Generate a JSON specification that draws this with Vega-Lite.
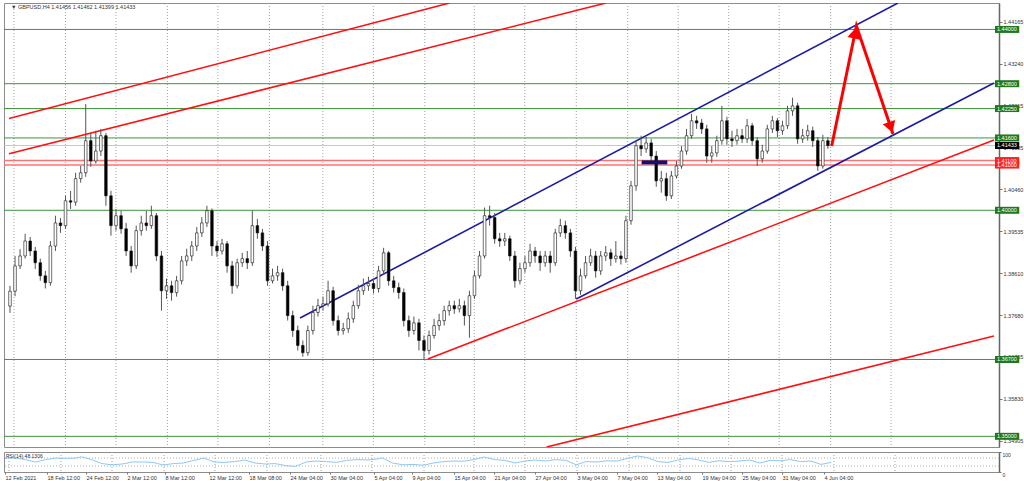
{
"$schema":"https://vega.github.io/schema/vega-lite/v6.json",
"padding":{"left":2,"top":2,"right":0,"bottom":0},
"background":"white",
"spacing":3,
"config":{"view":{"stroke":"#8c8c8c","strokeWidth":1},"font":"Liberation Sans","axis":{"labelFont":"Liberation Sans","labelFontSize":5.5,"labelColor":"#333333","domainColor":"#777777","tickColor":"#777777","grid":false}},
"datasets":{
"grid":[{"g":0.78},{"g":10.98},{"g":20.98},{"g":31.18},{"g":41.18},{"g":51.37},{"g":61.96},{"g":71.96},{"g":82.16},{"g":91.96},{"g":101.96},{"g":112.16},{"g":122.35},{"g":132.35},{"g":142.35},{"g":152.35},{"g":162.55},{"g":174.51}],
"lv":[{"p":1.44,"t":"green"},{"p":1.428,"t":"green"},{"p":1.4225,"t":"green"},{"p":1.416,"t":"green"},{"p":1.4,"t":"green"},{"p":1.367,"t":"green"},{"p":1.35,"t":"green"},{"p":1.411,"t":"red"},{"p":1.41,"t":"red"},{"p":1.41433,"t":"bid"}],
"tr":[{"id":"A","grp":"fan","k":-0.196,"p":1.4203},{"id":"A","grp":"fan","k":87.06,"p":1.44585},
{"id":"B","grp":"fan","k":-0.196,"p":1.41251},{"id":"B","grp":"fan","k":118.04,"p":1.44585},
{"id":"C","grp":"fan","k":82.75,"p":1.3671},{"id":"C","grp":"fan","k":194.9,"p":1.41554},
{"id":"D","grp":"fan","k":106.27,"p":1.34763},{"id":"D","grp":"fan","k":194.9,"p":1.37219},
{"id":"E","grp":"channel","k":57.45,"p":1.37617},{"id":"E","grp":"channel","k":175.88,"p":1.44585},
{"id":"F","grp":"channel","k":112.16,"p":1.38037},{"id":"F","grp":"channel","k":194.9,"p":1.42815}],
"zone":[{"k0":125.1,"k1":130.2,"p":1.4106}],
"arr":[{"n":0,"k":162.75,"p":1.41422},{"n":1,"k":167.65,"p":1.44076},{"n":2,"k":174.9,"p":1.41687}],
"heads":[{"dir":"up","k":167.37,"p":1.43923},{"dir":"down","k":174.45,"p":1.41833}],
"rl":[{"v":30},{"v":70}],
"hdr":[{"s":"▼ GBPUSD,H4  1.41456 1.41462 1.41399 1.41433"}],
"rhdr":[{"s":"RSI(14) 48.1306"}],
"rsi":[{"k":0,"r":68},{"k":2,"r":70},{"k":4,"r":62},{"k":6,"r":50},{"k":8,"r":62},{"k":10,"r":70},{"k":12,"r":68},{"k":14,"r":70},{"k":15,"r":76},{"k":17,"r":62},{"k":19,"r":42},{"k":21,"r":36},{"k":23,"r":40},{"k":25,"r":50},{"k":27,"r":50},{"k":29,"r":48},{"k":31,"r":35},{"k":33,"r":42},{"k":35,"r":45},{"k":37,"r":58},{"k":39,"r":70},{"k":41,"r":50},{"k":43,"r":48},{"k":45,"r":52},{"k":47,"r":60},{"k":49,"r":45},{"k":51,"r":40},{"k":53,"r":42},{"k":55,"r":32},{"k":57,"r":28},{"k":59,"r":50},{"k":61,"r":55},{"k":63,"r":52},{"k":65,"r":48},{"k":67,"r":58},{"k":69,"r":62},{"k":71,"r":60},{"k":73,"r":65},{"k":74,"r":70},{"k":76,"r":45},{"k":78,"r":36},{"k":80,"r":38},{"k":82,"r":34},{"k":84,"r":45},{"k":86,"r":52},{"k":88,"r":55},{"k":90,"r":54},{"k":92,"r":62},{"k":94,"r":75},{"k":96,"r":62},{"k":98,"r":58},{"k":100,"r":45},{"k":102,"r":55},{"k":104,"r":60},{"k":106,"r":55},{"k":108,"r":62},{"k":110,"r":58},{"k":112,"r":36},{"k":114,"r":52},{"k":116,"r":50},{"k":118,"r":56},{"k":120,"r":55},{"k":122,"r":68},{"k":124,"r":80},{"k":126,"r":72},{"k":128,"r":52},{"k":130,"r":48},{"k":132,"r":60},{"k":134,"r":68},{"k":136,"r":60},{"k":138,"r":48},{"k":140,"r":56},{"k":142,"r":52},{"k":144,"r":55},{"k":146,"r":60},{"k":148,"r":45},{"k":150,"r":58},{"k":152,"r":56},{"k":154,"r":62},{"k":156,"r":52},{"k":158,"r":55},{"k":160,"r":38},{"k":162,"r":48}],
"c":[
{"k":0,"o":1.3788,"h":1.3833,"l":1.3773,"c":1.3821},
{"k":1,"o":1.3821,"h":1.3899,"l":1.3810,"c":1.3877},
{"k":2,"o":1.3877,"h":1.3914,"l":1.3870,"c":1.3899},
{"k":3,"o":1.3899,"h":1.3948,"l":1.3893,"c":1.3932},
{"k":4,"o":1.3932,"h":1.3941,"l":1.3899,"c":1.3910},
{"k":5,"o":1.3910,"h":1.3919,"l":1.3870,"c":1.3884},
{"k":6,"o":1.3884,"h":1.3893,"l":1.3844,"c":1.3855},
{"k":7,"o":1.3855,"h":1.3866,"l":1.3827,"c":1.3840},
{"k":8,"o":1.3840,"h":1.3932,"l":1.3833,"c":1.3921},
{"k":9,"o":1.3921,"h":1.3988,"l":1.3910,"c":1.3972},
{"k":10,"o":1.3972,"h":1.3983,"l":1.3950,"c":1.3966},
{"k":11,"o":1.3966,"h":1.4032,"l":1.3959,"c":1.4021},
{"k":12,"o":1.4021,"h":1.4043,"l":1.4003,"c":1.4018},
{"k":13,"o":1.4018,"h":1.4083,"l":1.4010,"c":1.4070},
{"k":14,"o":1.4070,"h":1.4098,"l":1.4061,"c":1.4083},
{"k":15,"o":1.4083,"h":1.4235,"l":1.4074,"c":1.4154},
{"k":16,"o":1.4154,"h":1.4171,"l":1.4096,"c":1.4109},
{"k":17,"o":1.4109,"h":1.4176,"l":1.4103,"c":1.4131},
{"k":18,"o":1.4131,"h":1.4180,"l":1.4120,"c":1.4165},
{"k":19,"o":1.4165,"h":1.4171,"l":1.4010,"c":1.4032},
{"k":20,"o":1.4032,"h":1.4043,"l":1.3944,"c":1.3966},
{"k":21,"o":1.3966,"h":1.4003,"l":1.3955,"c":1.3988},
{"k":22,"o":1.3988,"h":1.3999,"l":1.3948,"c":1.3959},
{"k":23,"o":1.3959,"h":1.3972,"l":1.3899,"c":1.3910},
{"k":24,"o":1.3910,"h":1.3921,"l":1.3862,"c":1.3877},
{"k":25,"o":1.3877,"h":1.3966,"l":1.3870,"c":1.3955},
{"k":26,"o":1.3955,"h":1.3988,"l":1.3944,"c":1.3972},
{"k":27,"o":1.3972,"h":1.3999,"l":1.3955,"c":1.3966},
{"k":28,"o":1.3966,"h":1.4010,"l":1.3959,"c":1.3988},
{"k":29,"o":1.3988,"h":1.3994,"l":1.3888,"c":1.3899},
{"k":30,"o":1.3899,"h":1.3910,"l":1.3778,"c":1.3822},
{"k":31,"o":1.3822,"h":1.3849,"l":1.3804,"c":1.3833},
{"k":32,"o":1.3833,"h":1.3844,"l":1.3800,"c":1.3818},
{"k":33,"o":1.3818,"h":1.3855,"l":1.3809,"c":1.3844},
{"k":34,"o":1.3844,"h":1.3899,"l":1.3836,"c":1.3888},
{"k":35,"o":1.3888,"h":1.3915,"l":1.3877,"c":1.3899},
{"k":36,"o":1.3899,"h":1.3932,"l":1.3888,"c":1.3921},
{"k":37,"o":1.3921,"h":1.3963,"l":1.3910,"c":1.3950},
{"k":38,"o":1.3950,"h":1.3985,"l":1.3941,"c":1.3972},
{"k":39,"o":1.3972,"h":1.4010,"l":1.3963,"c":1.3999},
{"k":40,"o":1.3999,"h":1.4004,"l":1.3899,"c":1.3921},
{"k":41,"o":1.3921,"h":1.3932,"l":1.3897,"c":1.3910},
{"k":42,"o":1.3910,"h":1.3937,"l":1.3902,"c":1.3926},
{"k":43,"o":1.3926,"h":1.3932,"l":1.3862,"c":1.3877},
{"k":44,"o":1.3877,"h":1.3888,"l":1.3815,"c":1.3833},
{"k":45,"o":1.3833,"h":1.3893,"l":1.3827,"c":1.3884},
{"k":46,"o":1.3884,"h":1.3906,"l":1.3875,"c":1.3893},
{"k":47,"o":1.3893,"h":1.3910,"l":1.3870,"c":1.3884},
{"k":48,"o":1.3884,"h":1.3999,"l":1.3877,"c":1.3966},
{"k":49,"o":1.3966,"h":1.3981,"l":1.3937,"c":1.3950},
{"k":50,"o":1.3950,"h":1.3959,"l":1.3910,"c":1.3921},
{"k":51,"o":1.3921,"h":1.3932,"l":1.3833,"c":1.3844},
{"k":52,"o":1.3844,"h":1.3871,"l":1.3838,"c":1.3855},
{"k":53,"o":1.3855,"h":1.3877,"l":1.3844,"c":1.3862},
{"k":54,"o":1.3862,"h":1.3871,"l":1.3822,"c":1.3833},
{"k":55,"o":1.3833,"h":1.3844,"l":1.3756,"c":1.3767},
{"k":56,"o":1.3767,"h":1.3778,"l":1.3720,"c":1.3734},
{"k":57,"o":1.3734,"h":1.3745,"l":1.3690,"c":1.3701},
{"k":58,"o":1.3701,"h":1.3712,"l":1.3676,"c":1.3685},
{"k":59,"o":1.3685,"h":1.3745,"l":1.3678,"c":1.3734},
{"k":60,"o":1.3734,"h":1.3789,"l":1.3725,"c":1.3774},
{"k":61,"o":1.3774,"h":1.3804,"l":1.3765,"c":1.3789},
{"k":62,"o":1.3789,"h":1.3809,"l":1.3778,"c":1.3793},
{"k":63,"o":1.3793,"h":1.3844,"l":1.3787,"c":1.3822},
{"k":64,"o":1.3822,"h":1.3831,"l":1.3745,"c":1.3756},
{"k":65,"o":1.3756,"h":1.3767,"l":1.3723,"c":1.3734},
{"k":66,"o":1.3734,"h":1.3751,"l":1.3725,"c":1.3738},
{"k":67,"o":1.3738,"h":1.3774,"l":1.3729,"c":1.3760},
{"k":68,"o":1.3760,"h":1.3800,"l":1.3751,"c":1.3789},
{"k":69,"o":1.3789,"h":1.3835,"l":1.3782,"c":1.3822},
{"k":70,"o":1.3822,"h":1.3849,"l":1.3813,"c":1.3833},
{"k":71,"o":1.3833,"h":1.3853,"l":1.3822,"c":1.3838},
{"k":72,"o":1.3838,"h":1.3849,"l":1.3816,"c":1.3827},
{"k":73,"o":1.3827,"h":1.3877,"l":1.3818,"c":1.3866},
{"k":74,"o":1.3866,"h":1.3917,"l":1.3857,"c":1.3906},
{"k":75,"o":1.3906,"h":1.3910,"l":1.3833,"c":1.3844},
{"k":76,"o":1.3844,"h":1.3855,"l":1.3818,"c":1.3829},
{"k":77,"o":1.3829,"h":1.3840,"l":1.3804,"c":1.3818},
{"k":78,"o":1.3818,"h":1.3827,"l":1.3743,"c":1.3756},
{"k":79,"o":1.3756,"h":1.3767,"l":1.3720,"c":1.3734},
{"k":80,"o":1.3734,"h":1.3765,"l":1.3725,"c":1.3751},
{"k":81,"o":1.3751,"h":1.3760,"l":1.3690,"c":1.3712},
{"k":82,"o":1.3712,"h":1.3723,"l":1.3670,"c":1.3690},
{"k":83,"o":1.3690,"h":1.3734,"l":1.3681,"c":1.3723},
{"k":84,"o":1.3723,"h":1.3760,"l":1.3716,"c":1.3745},
{"k":85,"o":1.3745,"h":1.3771,"l":1.3734,"c":1.3756},
{"k":86,"o":1.3756,"h":1.3789,"l":1.3745,"c":1.3778},
{"k":87,"o":1.3778,"h":1.3800,"l":1.3767,"c":1.3789},
{"k":88,"o":1.3789,"h":1.3800,"l":1.3771,"c":1.3782},
{"k":89,"o":1.3782,"h":1.3804,"l":1.3774,"c":1.3789},
{"k":90,"o":1.3789,"h":1.3800,"l":1.3745,"c":1.3767},
{"k":91,"o":1.3767,"h":1.3822,"l":1.3718,"c":1.3811},
{"k":92,"o":1.3811,"h":1.3866,"l":1.3804,"c":1.3855},
{"k":93,"o":1.3855,"h":1.3910,"l":1.3849,"c":1.3899},
{"k":94,"o":1.3899,"h":1.4006,"l":1.3893,"c":1.3988},
{"k":95,"o":1.3988,"h":1.4010,"l":1.3966,"c":1.3984},
{"k":96,"o":1.3984,"h":1.3994,"l":1.3926,"c":1.3937},
{"k":97,"o":1.3937,"h":1.3950,"l":1.3919,"c":1.3932},
{"k":98,"o":1.3932,"h":1.3950,"l":1.3921,"c":1.3937},
{"k":99,"o":1.3937,"h":1.3944,"l":1.3888,"c":1.3899},
{"k":100,"o":1.3899,"h":1.3910,"l":1.3829,"c":1.3844},
{"k":101,"o":1.3844,"h":1.3884,"l":1.3836,"c":1.3871},
{"k":102,"o":1.3871,"h":1.3899,"l":1.3862,"c":1.3884},
{"k":103,"o":1.3884,"h":1.3926,"l":1.3875,"c":1.3910},
{"k":104,"o":1.3910,"h":1.3919,"l":1.3884,"c":1.3899},
{"k":105,"o":1.3899,"h":1.3910,"l":1.3866,"c":1.3884},
{"k":106,"o":1.3884,"h":1.3910,"l":1.3875,"c":1.3899},
{"k":107,"o":1.3899,"h":1.3910,"l":1.3862,"c":1.3884},
{"k":108,"o":1.3884,"h":1.3959,"l":1.3877,"c":1.3950},
{"k":109,"o":1.3950,"h":1.3981,"l":1.3941,"c":1.3966},
{"k":110,"o":1.3966,"h":1.3977,"l":1.3937,"c":1.3950},
{"k":111,"o":1.3950,"h":1.3959,"l":1.3897,"c":1.3910},
{"k":112,"o":1.3910,"h":1.3919,"l":1.3804,"c":1.3822},
{"k":113,"o":1.3822,"h":1.3871,"l":1.3813,"c":1.3855},
{"k":114,"o":1.3855,"h":1.3899,"l":1.3849,"c":1.3884},
{"k":115,"o":1.3884,"h":1.3915,"l":1.3877,"c":1.3899},
{"k":116,"o":1.3899,"h":1.3910,"l":1.3851,"c":1.3866},
{"k":117,"o":1.3866,"h":1.3910,"l":1.3857,"c":1.3899},
{"k":118,"o":1.3899,"h":1.3921,"l":1.3888,"c":1.3906},
{"k":119,"o":1.3906,"h":1.3915,"l":1.3877,"c":1.3893},
{"k":120,"o":1.3893,"h":1.3932,"l":1.3884,"c":1.3899},
{"k":121,"o":1.3899,"h":1.3910,"l":1.3880,"c":1.3893},
{"k":122,"o":1.3893,"h":1.3988,"l":1.3884,"c":1.3977},
{"k":123,"o":1.3977,"h":1.4065,"l":1.3968,"c":1.4054},
{"k":124,"o":1.4054,"h":1.4154,"l":1.4043,"c":1.4143},
{"k":125,"o":1.4143,"h":1.4165,"l":1.4120,"c":1.4136},
{"k":126,"o":1.4136,"h":1.4162,"l":1.4127,"c":1.4149},
{"k":127,"o":1.4149,"h":1.4158,"l":1.4109,"c":1.4120},
{"k":128,"o":1.4120,"h":1.4131,"l":1.4052,"c":1.4065},
{"k":129,"o":1.4065,"h":1.4087,"l":1.4039,"c":1.4070},
{"k":130,"o":1.4070,"h":1.4083,"l":1.4021,"c":1.4032},
{"k":131,"o":1.4032,"h":1.4087,"l":1.4025,"c":1.4076},
{"k":132,"o":1.4076,"h":1.4109,"l":1.4070,"c":1.4098},
{"k":133,"o":1.4098,"h":1.4142,"l":1.4092,"c":1.4131},
{"k":134,"o":1.4131,"h":1.4180,"l":1.4123,"c":1.4165},
{"k":135,"o":1.4165,"h":1.4213,"l":1.4158,"c":1.4198},
{"k":136,"o":1.4198,"h":1.4209,"l":1.4180,"c":1.4193},
{"k":137,"o":1.4193,"h":1.4202,"l":1.4169,"c":1.4180},
{"k":138,"o":1.4180,"h":1.4189,"l":1.4105,"c":1.4120},
{"k":139,"o":1.4120,"h":1.4142,"l":1.4105,"c":1.4127},
{"k":140,"o":1.4127,"h":1.4165,"l":1.4118,"c":1.4154},
{"k":141,"o":1.4154,"h":1.4231,"l":1.4145,"c":1.4198},
{"k":142,"o":1.4198,"h":1.4207,"l":1.4145,"c":1.4158},
{"k":143,"o":1.4158,"h":1.4176,"l":1.4140,"c":1.4154},
{"k":144,"o":1.4154,"h":1.4180,"l":1.4145,"c":1.4165},
{"k":145,"o":1.4165,"h":1.4180,"l":1.4149,"c":1.4158},
{"k":146,"o":1.4158,"h":1.4202,"l":1.4149,"c":1.4187},
{"k":147,"o":1.4187,"h":1.4193,"l":1.4143,"c":1.4154},
{"k":148,"o":1.4154,"h":1.4162,"l":1.4098,"c":1.4114},
{"k":149,"o":1.4114,"h":1.4145,"l":1.4105,"c":1.4131},
{"k":150,"o":1.4131,"h":1.4189,"l":1.4125,"c":1.4180},
{"k":151,"o":1.4180,"h":1.4209,"l":1.4171,"c":1.4198},
{"k":152,"o":1.4198,"h":1.4204,"l":1.4162,"c":1.4176},
{"k":153,"o":1.4176,"h":1.4198,"l":1.4167,"c":1.4187},
{"k":154,"o":1.4187,"h":1.4231,"l":1.4180,"c":1.4220},
{"k":155,"o":1.4220,"h":1.4249,"l":1.4209,"c":1.4231},
{"k":156,"o":1.4231,"h":1.4238,"l":1.4147,"c":1.4158},
{"k":157,"o":1.4158,"h":1.4180,"l":1.4149,"c":1.4165},
{"k":158,"o":1.4165,"h":1.4189,"l":1.4154,"c":1.4176},
{"k":159,"o":1.4176,"h":1.4185,"l":1.4140,"c":1.4154},
{"k":160,"o":1.4154,"h":1.4162,"l":1.4087,"c":1.4098},
{"k":161,"o":1.4098,"h":1.4167,"l":1.4092,"c":1.4154},
{"k":162,"o":1.4154,"h":1.4162,"l":1.4136,"c":1.4143}
]},
"vconcat":[
{
"width":995,"height":444,
"layer":[
{"data":{"name":"grid"},"mark":{"type":"rule","color":"#a0a0a0","strokeDash":[1,2],"strokeWidth":1},
 "encoding":{"x":{"field":"g","type":"quantitative","scale":{"domain":[-0.196,194.9],"nice":false,"zero":false},"axis":null}}},
{"data":{"name":"lv"},"transform":[{"filter":"datum.t=='green'"}],"mark":{"type":"rule","color":"#3c963c","strokeWidth":1},
 "encoding":{"y":{"field":"p","type":"quantitative","scale":{"domain":[1.34764,1.44585],"nice":false,"zero":false},
 "axis":{"orient":"right","title":null,"values":[1.44165,1.43705,1.4324,1.4278,1.42315,1.4185,1.41385,1.40925,1.4046,1.39995,1.39535,1.3907,1.3861,1.38145,1.3768,1.3722,1.36755,1.3629,1.3583,1.35365,1.34905],"format":".5f","tickSize":3,"labelPadding":1,"labelOverlap":false,"labelBound":false,"domainColor":"#666666","domainWidth":1.5}}}},
{"data":{"name":"lv"},"transform":[{"filter":"datum.t=='red'"}],"mark":{"type":"rule","color":"#ff7070","strokeWidth":1.5},
 "encoding":{"y":{"field":"p","type":"quantitative"}}},
{"data":{"name":"lv"},"transform":[{"filter":"datum.t=='bid'"}],"mark":{"type":"rule","color":"#c8c8c8","strokeWidth":1},
 "encoding":{"y":{"field":"p","type":"quantitative"}}},
{"data":{"name":"tr"},"mark":{"type":"line","clip":true,"strokeWidth":1.6},
 "encoding":{"x":{"field":"k","type":"quantitative"},"y":{"field":"p","type":"quantitative"},"detail":{"field":"id"},
 "color":{"field":"grp","type":"nominal","scale":{"domain":["fan","channel"],"range":["#ff1010","#1c1ca0"]},"legend":null}}},
{"data":{"name":"c"},"mark":{"type":"rule","color":"#555555","strokeWidth":1},
 "encoding":{"x":{"field":"k","type":"quantitative"},"y":{"field":"l","type":"quantitative"},"y2":{"field":"h"}}},
{"data":{"name":"c"},"mark":{"type":"bar","width":2.6,"stroke":"#111111","strokeWidth":0.6},
 "encoding":{"x":{"field":"k","type":"quantitative"},"y":{"field":"o","type":"quantitative"},"y2":{"field":"c"},
 "fill":{"condition":{"test":"datum.c >= datum.o","value":"#ffffff"},"value":"#000000"}}},
{"data":{"name":"zone"},"mark":{"type":"rule","color":"#12126e","strokeWidth":4},
 "encoding":{"x":{"field":"k0","type":"quantitative"},"x2":{"field":"k1"},"y":{"field":"p","type":"quantitative"}}},
{"data":{"name":"arr"},"mark":{"type":"line","color":"#ff0000","strokeWidth":3},
 "encoding":{"x":{"field":"k","type":"quantitative"},"y":{"field":"p","type":"quantitative"},"order":{"field":"n"}}},
{"data":{"name":"heads"},"transform":[{"filter":"datum.dir=='up'"}],"mark":{"type":"point","filled":true,"color":"#ff0000","opacity":1,"size":170,"shape":"triangle-up","angle":12},
 "encoding":{"x":{"field":"k","type":"quantitative"},"y":{"field":"p","type":"quantitative"}}},
{"data":{"name":"heads"},"transform":[{"filter":"datum.dir=='down'"}],"mark":{"type":"point","filled":true,"color":"#ff0000","opacity":1,"size":170,"shape":"triangle-up","angle":161},
 "encoding":{"x":{"field":"k","type":"quantitative"},"y":{"field":"p","type":"quantitative"}}},
{"data":{"name":"lv"},"mark":{"type":"rule","strokeWidth":7,"strokeCap":"butt"},
 "encoding":{"x":{"datum":195.1,"type":"quantitative"},"x2":{"datum":199.9},"y":{"field":"p","type":"quantitative"},
 "stroke":{"field":"t","type":"nominal","scale":{"domain":["green","red","bid"],"range":["#1f7a1f","#ff2020","#000000"]},"legend":null}}},
{"data":{"name":"lv"},"mark":{"type":"text","align":"left","baseline":"middle","fontSize":5.5,"color":"#ffffff","font":"Liberation Sans"},
 "encoding":{"x":{"datum":195.5,"type":"quantitative"},"y":{"field":"p","type":"quantitative"},"text":{"field":"p","format":".5f"}}},
{"data":{"name":"hdr"},"mark":{"type":"text","align":"left","baseline":"top","fontSize":5.5,"color":"#333333","font":"Liberation Sans","dx":2,"dy":2},
 "encoding":{"x":{"datum":-0.196,"type":"quantitative"},"y":{"datum":1.44585,"type":"quantitative"},"text":{"field":"s"}}}
]
},
{
"width":995,"height":20,
"layer":[
{"data":{"name":"grid"},"mark":{"type":"rule","color":"#a0a0a0","strokeDash":[1,2],"strokeWidth":1},
 "encoding":{"x":{"field":"g","type":"quantitative","scale":{"domain":[-0.196,194.9],"nice":false,"zero":false},
 "axis":{"orient":"bottom","title":null,"values":[0,8.24,15.88,23.92,31.37,40,47.84,55.88,63.73,72.35,79.8,88.04,95.88,103.92,112.16,120,127.84,136.67,144.51,152.35,160.59],
 "labelExpr":"['12 Feb 2021','18 Feb 12:00','24 Feb 12:00','2 Mar 12:00','8 Mar 12:00','12 Mar 12:00','18 Mar 08:00','24 Mar 04:00','30 Mar 04:00','5 Apr 04:00','9 Apr 04:00','15 Apr 04:00','21 Apr 04:00','27 Apr 04:00','3 May 04:00','7 May 04:00','13 May 04:00','19 May 04:00','25 May 04:00','31 May 04:00','4 Jun 04:00'][indexof([0,8.24,15.88,23.92,31.37,40,47.84,55.88,63.73,72.35,79.8,88.04,95.88,103.92,112.16,120,127.84,136.67,144.51,152.35,160.59], datum.value)]",
 "labelAlign":"left","labelBaseline":"top","labelOverlap":false,"labelBound":false,"labelFlush":false,"tickSize":2,"labelPadding":1,"domain":false}}}},
{"data":{"name":"rl"},"mark":{"type":"rule","color":"#b4b4b4","strokeDash":[1,2],"strokeWidth":1},
 "encoding":{"y":{"field":"v","type":"quantitative","scale":{"domain":[0,100],"nice":false,"zero":false},
 "axis":{"orient":"right","title":null,"values":[0,30,70,100],"tickSize":2,"labelPadding":1,"labelFontSize":5,"labelBaseline":"top","labelOverlap":false,"labelBound":false,"domainColor":"#666666","domainWidth":1.5}}}},
{"data":{"name":"rsi"},"mark":{"type":"line","color":"#8ec8f5","strokeWidth":1},
 "encoding":{"x":{"field":"k","type":"quantitative"},"y":{"field":"r","type":"quantitative"}}},
{"data":{"name":"rhdr"},"mark":{"type":"text","align":"left","baseline":"top","fontSize":5,"color":"#333333","font":"Liberation Sans","dx":2,"dy":2},
 "encoding":{"x":{"datum":-0.196,"type":"quantitative"},"y":{"datum":100,"type":"quantitative"},"text":{"field":"s"}}}
]
}
]
}
